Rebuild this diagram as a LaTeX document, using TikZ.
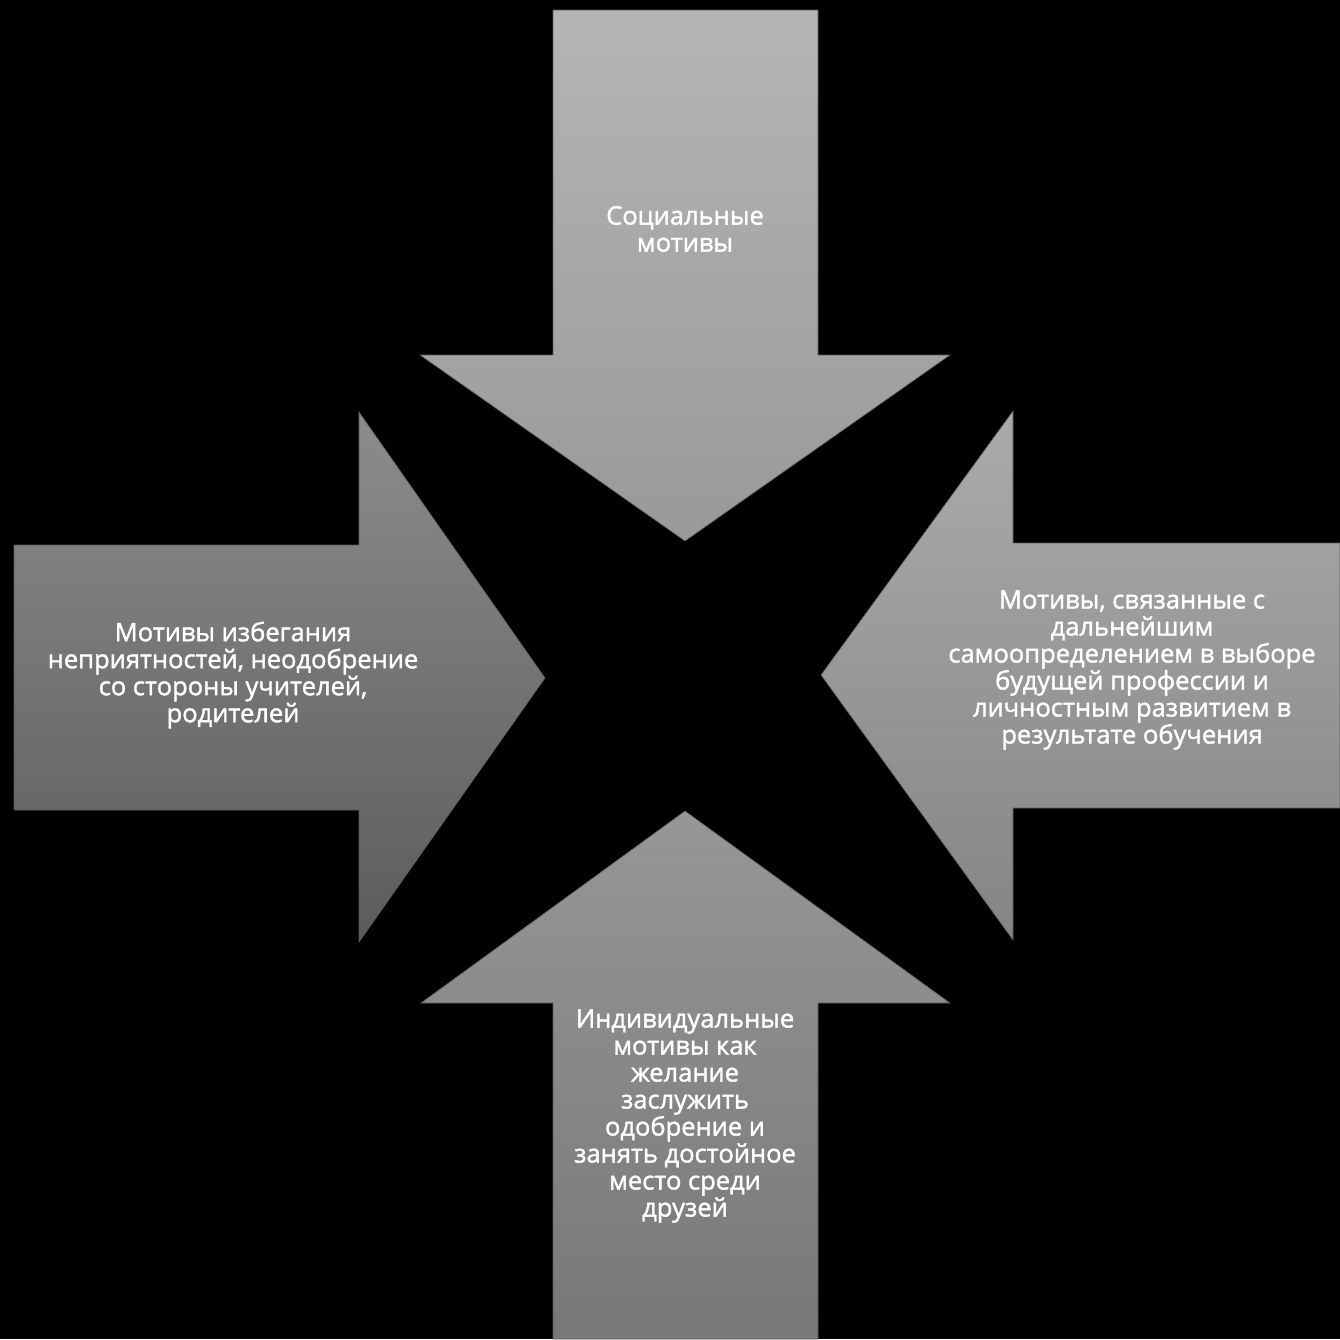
\documentclass[tikz,border=0pt]{standalone}
\usepackage{fontspec}
\setmainfont{Open Sans}[FakeBold=1.5]
\definecolor{socialtop}{gray}{0.71}
\definecolor{socialbot}{gray}{0.60}
\definecolor{avoidtop}{gray}{0.55}
\definecolor{avoidbot}{gray}{0.36}
\definecolor{futuretop}{gray}{0.67}
\definecolor{futurebot}{gray}{0.52}
\definecolor{persontop}{gray}{0.59}
\definecolor{personbot}{gray}{0.47}
\begin{document}
\begin{tikzpicture}[x=1pt, y=-1pt,
    motive/.style={draw=black!65, line width=0.6pt},
    motivetext/.style={text=white, align=center, font=\fontsize{25.5}{27}\selectfont}]
  \fill[black] (0,0) rectangle (1340,1339);
  \useasboundingbox (0,0) rectangle (1340,1339);
  % arrow from above
  \path[motive, top color=socialtop, bottom color=socialbot]
    (553,10) -- (818,10) -- (818,355) -- (950,355) -- (685,541) -- (420,355) -- (553,355) -- cycle;
  % arrow from the left
  \path[motive, top color=avoidtop, bottom color=avoidbot]
    (14,545) -- (359,545) -- (359,412) -- (545,678) -- (359,942) -- (359,810) -- (14,810) -- cycle;
  % arrow from the right
  \path[motive, top color=futuretop, bottom color=futurebot]
    (1340,543) -- (1013,543) -- (1013,411) -- (821,675) -- (1013,940) -- (1013,808) -- (1340,808) -- cycle;
  % arrow from below
  \path[motive, top color=persontop, bottom color=personbot]
    (553,1339) -- (553,1003) -- (421,1003) -- (685,811) -- (950,1003) -- (818,1003) -- (818,1339) -- cycle;
  \node[motivetext] (social) at (685,229) {Социальные\\мотивы};
  \node[motivetext] (avoid) at (233,675) {Мотивы избегания\\неприятностей, неодобрение\\со стороны учителей,\\родителей};
  \node[motivetext] (future) at (1132,670) {Мотивы, связанные с\\дальнейшим\\самоопределением в выборе\\будущей профессии и\\личностным развитием в\\результате обучения};
  \node[motivetext] (person) at (685,1116) {Индивидуальные\\мотивы как\\желание\\заслужить\\одобрение и\\занять достойное\\место среди\\друзей};
\end{tikzpicture}
\end{document}
